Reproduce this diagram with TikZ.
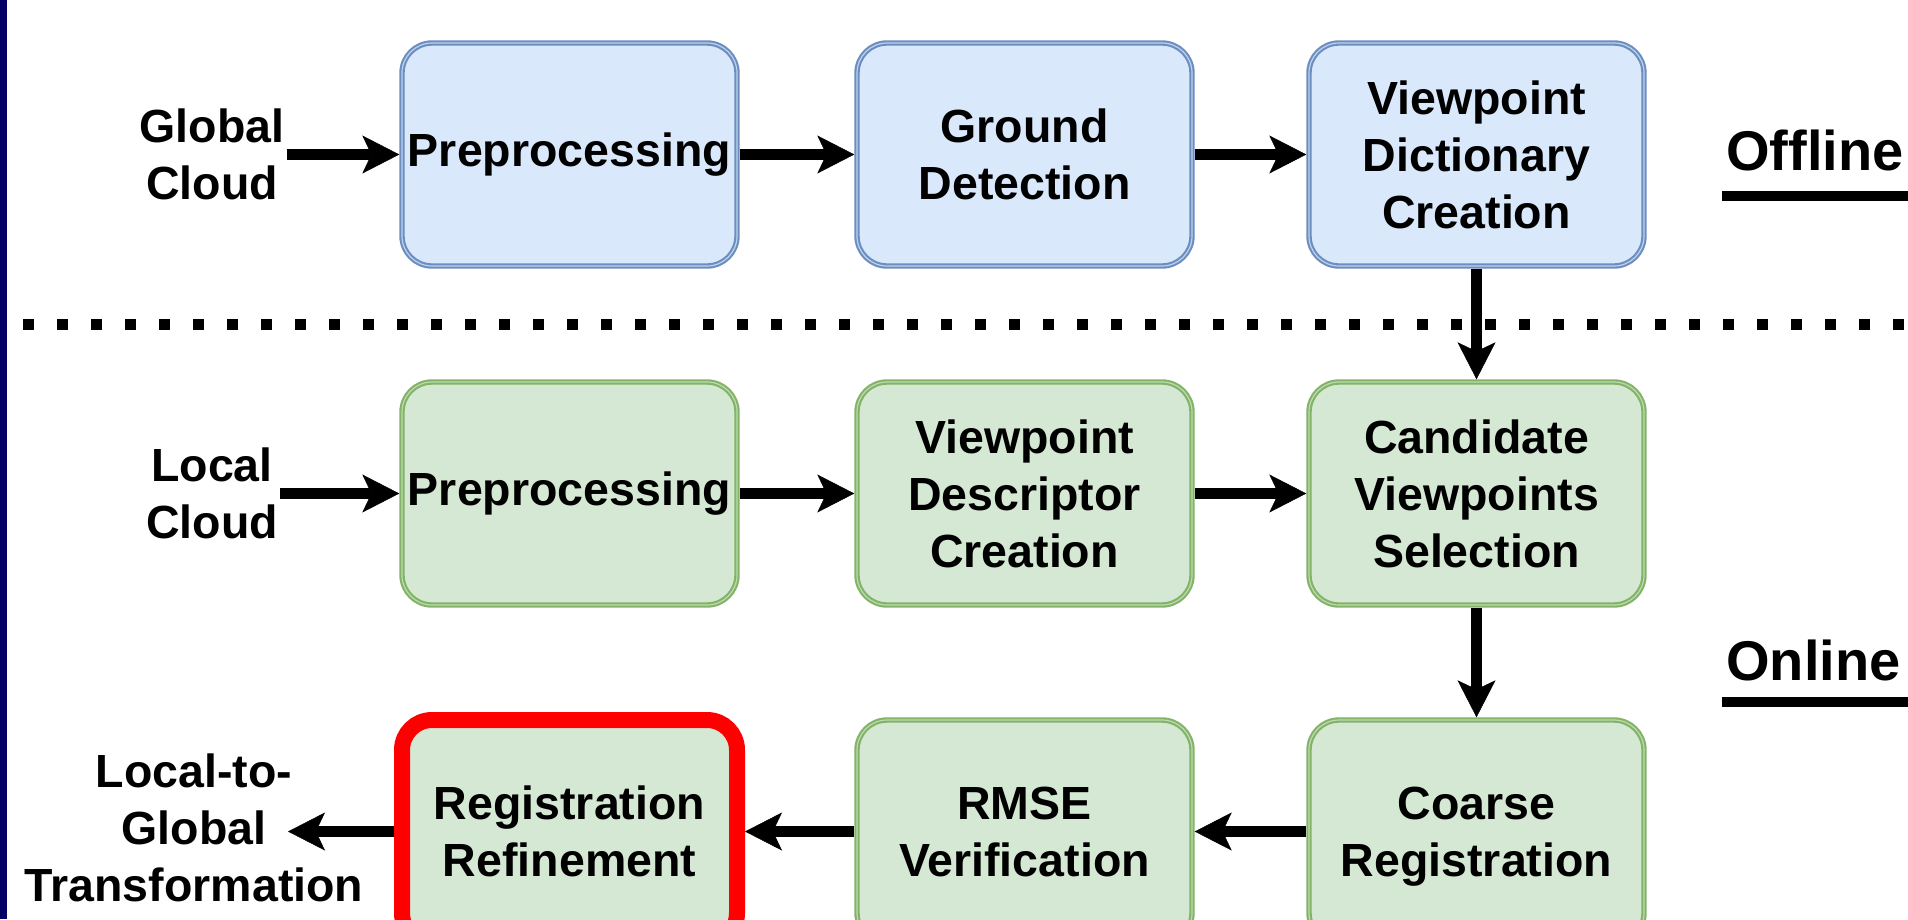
\documentclass[tikz,border=0pt]{standalone}
\usepackage{fontspec}
\setmainfont{Liberation Sans}
\usetikzlibrary{arrows.meta}
\definecolor{bfill}{HTML}{DAE8FC}
\definecolor{bline}{HTML}{6C8EBF}
\definecolor{bmid}{HTML}{BED1EE}
\definecolor{gfill}{HTML}{D5E8D4}
\definecolor{gline}{HTML}{82B366}
\definecolor{gmid}{HTML}{BBDAB3}
\definecolor{navy}{RGB}{3,0,102}
\begin{document}
\begin{tikzpicture}[x=1pt,y=-1pt,
  box/.style={rounded corners=30pt, minimum width=335pt, minimum height=223pt,
    align=center, inner sep=0pt, font=\fontsize{46.5}{57}\selectfont\bfseries,
    line width=2.1pt, outer sep=2.7pt},
  bluebox/.style={box, draw=bline, fill=bfill, double=bmid, double distance=1.2pt},
  greenbox/.style={box, draw=gline, fill=gfill, double=gmid, double distance=1.2pt},
  redbox/.style={box, draw=red, fill=gfill, line width=16pt, outer sep=8pt},
  lbl/.style={align=center, inner sep=2pt, font=\fontsize{46.5}{57}\selectfont\bfseries},
  phase/.style={anchor=base west, inner sep=0pt, font=\fontsize{56}{67}\selectfont\bfseries},
  flow/.style={line width=10.5pt, -{Stealth[length=37pt,width=38pt,inset=9pt,line width=0.5pt]}}
]
\useasboundingbox (0,0) rectangle (1908,919);
\fill[navy] (0,0) rectangle (7,919);

% dotted separator
\coordinate (dl) at (23,324);
\coordinate (dr) at (1908,324);
\draw[line width=11pt, dash pattern=on 11pt off 23pt] (dl) -- (dr);

% row 1 (offline)
\node[bluebox] (b11) at (569.5,154.5) {Preprocessing};
\node[bluebox] (b12) at (1024.5,154.5) {Ground\\Detection};
\node[bluebox] (b13) at (1476.5,154.5) {Viewpoint\\Dictionary\\Creation};

% row 2 (online)
\node[greenbox] (b21) at (569.5,493.5) {Preprocessing};
\node[greenbox] (b22) at (1024.5,493.5) {Viewpoint\\Descriptor\\Creation};
\node[greenbox] (b23) at (1476.5,493.5) {Candidate\\Viewpoints\\Selection};

% row 3
\node[greenbox, text depth=0pt] (b33) at (1476.5,831.5) {Coarse\\Registration};
\node[greenbox] (b32) at (1024.5,831.5) {RMSE\\Verification};
\node[redbox] (b31) at (569.5,831.5) {Registration\\Refinement};

% side labels
\node[lbl] (gc) at (212,154.5) {Global\\Cloud};
\node[lbl] (lc) at (212,493.5) {Local\\Cloud};
\node[lbl] (lg) at (194,828) {Local-to-\\Global\\Transformation};
\coordinate (lgend) at (288,831.5);

% phase labels
\node[phase] (off) at (1726,170) {Offline};
\node[phase] (on) at (1726,680) {Online};
\draw[line width=10pt] (1722,196) -- (1908,196);
\draw[line width=10pt] (1722,702) -- (1908,702);

% connectors
\draw[flow] (gc.east) -- (b11.west);
\draw[flow] (b11.east) -- (b12.west);
\draw[flow] (b12.east) -- (b13.west);
\draw[flow] (b13.south) -- (b23.north);
\draw[flow] (lc.east) -- (b21.west);
\draw[flow] (b21.east) -- (b22.west);
\draw[flow] (b22.east) -- (b23.west);
\draw[flow] (b23.south) -- (b33.north);
\draw[flow] (b33.west) -- (b32.east);
\draw[flow] (b32.west) -- (b31.east);
\draw[flow] (b31.west) -- (lgend);
\end{tikzpicture}
\end{document}
